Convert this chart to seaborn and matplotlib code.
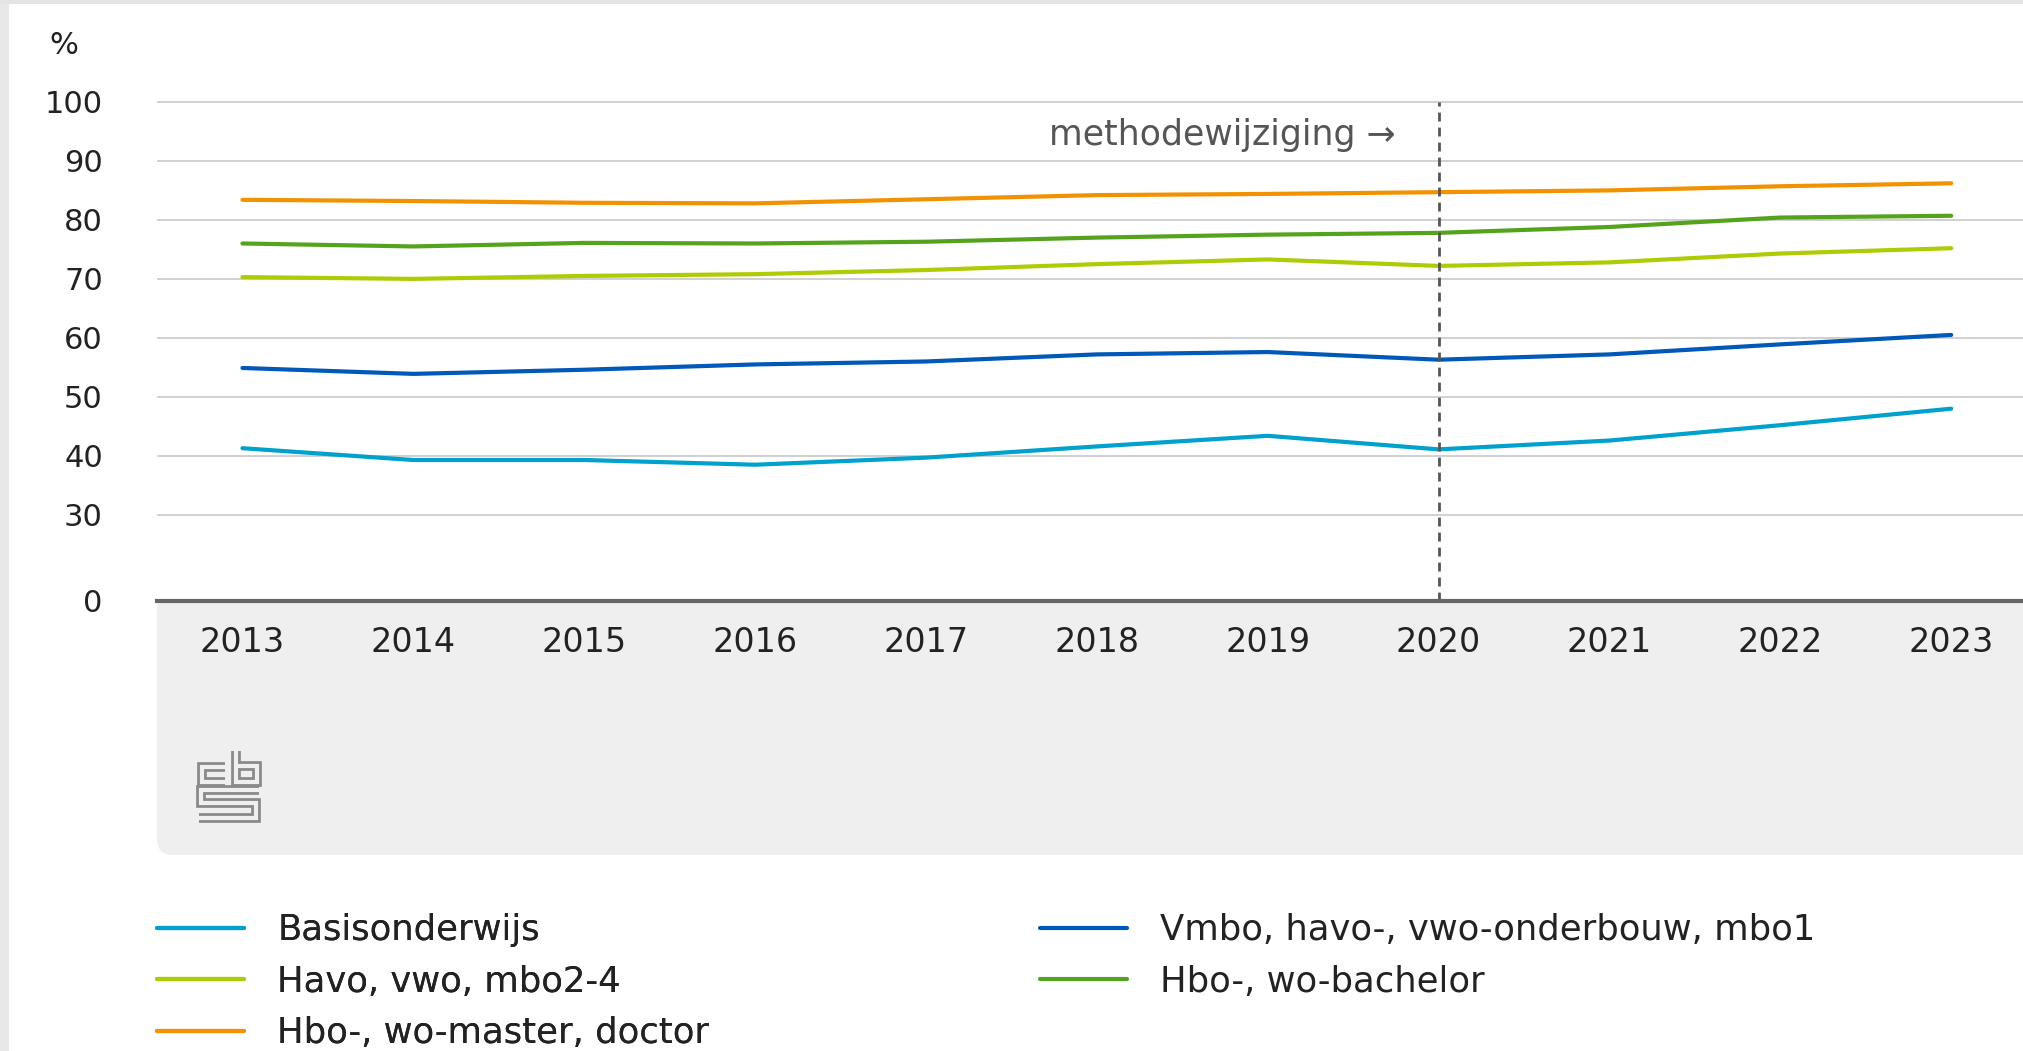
import matplotlib
matplotlib.use("Agg")
import matplotlib.pyplot as plt
from matplotlib.patches import FancyBboxPatch, Rectangle
from matplotlib.lines import Line2D
from matplotlib.transforms import IdentityTransform
import seaborn as sns
import pandas as pd

# data (percentages)
years = [2013, 2014, 2015, 2016, 2017, 2018, 2019, 2020, 2021, 2022, 2023]
basis = [41.3, 39.3, 39.3, 38.5, 39.7, 41.6, 43.4, 41.1, 42.6, 45.2, 48.0]
vmbo = [54.9, 53.9, 54.6, 55.5, 56.0, 57.2, 57.6, 56.3, 57.2, 58.9, 60.5]
havo = [70.3, 70.0, 70.5, 70.8, 71.5, 72.5, 73.3, 72.2, 72.8, 74.3, 75.2]
bachelor = [76.0, 75.5, 76.1, 76.0, 76.3, 77.0, 77.5, 77.8, 78.8, 80.4, 80.7]
master = [83.4, 83.2, 82.9, 82.8, 83.5, 84.2, 84.4, 84.7, 85.0, 85.7, 86.2]

labels = ["Basisonderwijs", "Vmbo, havo-, vwo-onderbouw, mbo1",
          "Havo, vwo, mbo2-4", "Hbo-, wo-bachelor", "Hbo-, wo-master, doctor"]
colors = ["#00a1cd", "#0058b8", "#afcb05", "#53a31d", "#f39200"]
yticks = [30, 40, 50, 60, 70, 80, 90, 100]

df = pd.DataFrame({"jaar": years, labels[0]: basis, labels[1]: vmbo,
                   labels[2]: havo, labels[3]: bachelor, labels[4]: master})
df = df.melt(id_vars="jaar", var_name="niveau", value_name="pct")

sns.set_theme(style="white")
plt.rcParams["font.family"] = ["DejaVu Sans"]

W, H = 2023, 1051
fig = plt.figure(figsize=(W / 100, H / 100), dpi=100)
fig.patch.set_facecolor("white")

# axes placed in pixel terms
ybot, ytop = 15.4, 101
ax = fig.add_axes([157 / W, 1 - 601 / H, 1 - 157 / W, (601 - 96) / H])
ax.set_facecolor("white")

sns.lineplot(data=df, x="jaar", y="pct", hue="niveau", hue_order=labels,
             palette=dict(zip(labels, colors)), linewidth=3.0, ax=ax,
             legend=False)

ax.set_xlim(2012.5, 2023.42)
ax.set_ylim(ybot, ytop)
ax.set_xticks(years)
ax.set_xticklabels([str(y) for y in years], fontsize=24, color="#222222")
ax.set_yticks([ybot] + yticks)
ax.set_yticklabels(["0"] + [str(t) for t in yticks], fontsize=22, color="#222222")
ax.tick_params(axis="y", length=0, pad=39)
ax.tick_params(axis="x", length=0, pad=18)
ax.set_xlabel("")
ax.set_ylabel("")
for t in yticks:
    ax.axhline(t, color="#d0d0d0", lw=1.4, zorder=0)
for s in ["top", "right", "left"]:
    ax.spines[s].set_visible(False)
ax.spines["bottom"].set_color("#666666")
ax.spines["bottom"].set_linewidth(3)
ax.spines["bottom"].set_zorder(5)

# method change marker
ax.vlines(2020, ybot, 100, colors="#555555", lw=2.0,
          linestyles=(0, (3.2, 2.2)), zorder=4)
ax.annotate("methodewijziging \u2192", xy=(2020, 94.4), xytext=(-31, 0),
            textcoords="offset points", ha="right", va="center",
            fontsize=25, color="#555555")

fig.text(64 / W, 1 - 45 / H, "%", fontsize=22, color="#222222",
         ha="center", va="center")

# grey panel under the x axis with rounded lower-left corner
panel = FancyBboxPatch((157, H - 855), W, 300, boxstyle="round,pad=0,rounding_size=16",
                       transform=IdentityTransform(), facecolor="#efefef",
                       edgecolor="none", zorder=-5)
fig.patches.append(panel)
fig.patches.append(Rectangle((0, 0), 9, H, transform=IdentityTransform(),
                             facecolor="#e8e8e8", edgecolor="none", zorder=-4))
fig.patches.append(Rectangle((0, H - 4), W, 4, transform=IdentityTransform(),
                             facecolor="#e4e4e4", edgecolor="none", zorder=-4))

# cbs logo, outlined strokes
logo = [
    [(225, 767), (202, 767), (202, 782), (225, 782)],
    [(236, 751), (236, 782), (257, 782), (257, 766), (236, 766)],
    [(259, 790), (201, 790), (201, 803), (256, 803), (256, 818), (199, 818)],
]
for path in logo:
    xs = [p[0] for p in path]
    ys = [H - p[1] for p in path]
    for lw, c in [(7.0, "#8a8a8a"), (3.0, "#efefef")]:
        fig.add_artist(Line2D(xs, ys, transform=IdentityTransform(), lw=lw,
                              color=c, solid_joinstyle="miter",
                              solid_capstyle="butt", zorder=3))

# legend in two columns
handles = [Line2D([], [], color=c, lw=3.0) for c in colors]
leg_kw = dict(frameon=False, fontsize=25.5, handlelength=2.45, handletextpad=0.95,
              labelspacing=0.5, borderpad=0, borderaxespad=0, loc="upper left",
              labelcolor="#222222")
leg1 = fig.legend([handles[0], handles[2], handles[4]],
                  [labels[0], labels[2], labels[4]],
                  bbox_to_anchor=(157 / W, 1 - 913 / H), **leg_kw)
fig.legend([handles[1], handles[3]], [labels[1], labels[3]],
           bbox_to_anchor=(1040 / W, 1 - 913 / H), **leg_kw)
fig.add_artist(leg1)

fig.savefig("out.png", dpi=100)
